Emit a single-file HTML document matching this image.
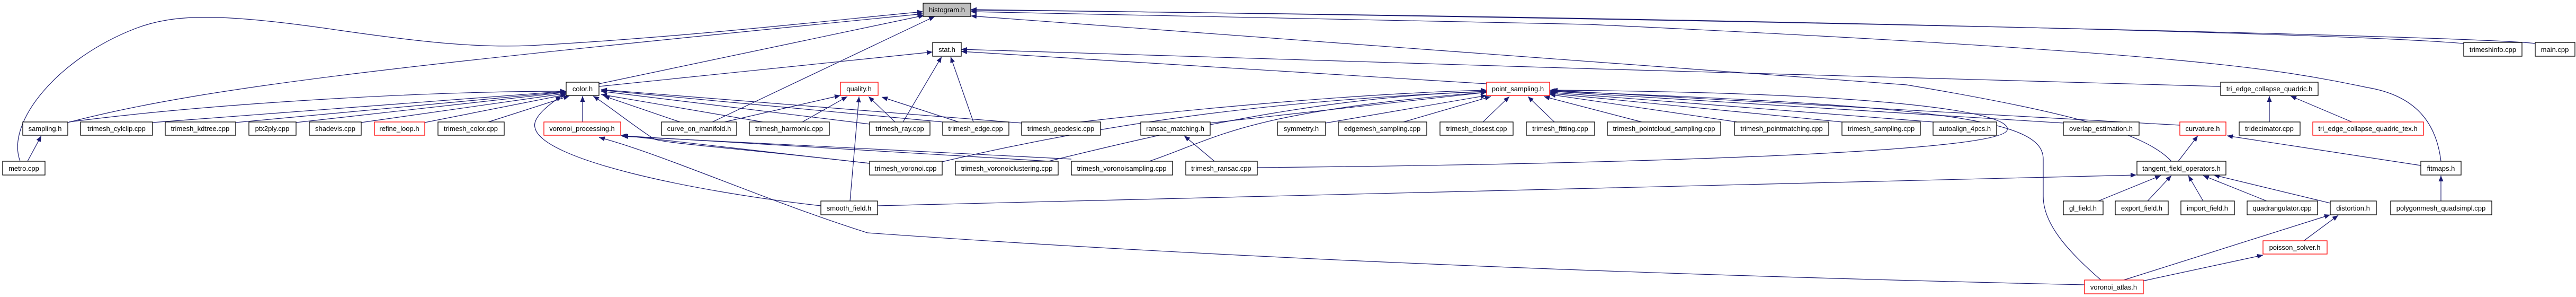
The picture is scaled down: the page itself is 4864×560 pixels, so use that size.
<!DOCTYPE html>
<html><head><meta charset="utf-8"><style>
html,body{margin:0;padding:0;background:#fff;}
svg{display:block}
text{font-family:"Liberation Sans",Arial,sans-serif;font-size:13px;text-anchor:middle;fill:#000}
.e{fill:none;stroke:#191970;stroke-width:1.2}
.n{fill:#fff;stroke:#000;stroke-width:1.3}
.r{fill:#fff;stroke:#f00;stroke-width:1.3}
.g{fill:#bfbfbf;stroke:#000;stroke-width:1.3}
</style></head><body>
<svg width="4864" height="560" viewBox="0 0 4864 560" xmlns="http://www.w3.org/2000/svg">
<defs><marker id="a" markerUnits="userSpaceOnUse" markerWidth="12" markerHeight="10" refX="11" refY="4.5" orient="auto"><path d="M0,0 L11,4.5 L0,9 z" fill="#191970"/></marker></defs>
<g class="e" marker-end="url(#a)">
<path d="M38 304 C10 230,110 110,255 54 C330 25,420 25,640 57 C800 80,900 90,1000 86 C1300 70,1600 35,1743 22"/>
<path d="M52 304 L78 256"/>
<path d="M128 231 C400 160,800 120,1743 26"/>
<path d="M130 230 C400 195,800 172,1069 172"/>
<path d="M288 231 L1069 172"/>
<path d="M445 231 L1069 173"/>
<path d="M559 231 L1069 174"/>
<path d="M682 231 L1069 176"/>
<path d="M802 231 L1070 178"/>
<path d="M922 230 L1075 181"/>
<path d="M1131 158 L1745 29"/>
<path d="M1131 163 L1761 98"/>
<path d="M1100 230 L1100 181"/>
<path d="M1284 230 L1140 181"/>
<path d="M1368 230 L1587 180"/>
<path d="M1345 230 L1765 31"/>
<path d="M1440 230 L1135 178"/>
<path d="M1515 230 L1600 182"/>
<path d="M1642 234 L1135 172"/>
<path d="M1690 230 L1640 182"/>
<path d="M1705 230 L1778 107"/>
<path d="M1838 230 L1795 107"/>
<path d="M1810 230 L1665 183"/>
<path d="M1780 230 L1135 170"/>
<path d="M1929 232 L1135 169"/>
<path d="M2040 230 C2300 200,2600 175,2807 170"/>
<path d="M1550 388 C1300 360,1020 300,1010 240 C1005 220,1040 195,1060 181"/>
<path d="M1605 379 L1622 182"/>
<path d="M1657 388 L4034 330"/>
<path d="M1642 308 L1172 255"/>
<path d="M1642 308 C1400 280,1250 270,1235 262 C1200 240,1150 200,1120 181"/>
<path d="M1779 305 C2100 230,2400 190,2807 172"/>
<path d="M1998 305 L1175 256"/>
<path d="M1980 304 C2200 250,2500 180,2807 173"/>
<path d="M2023 300 L1175 257"/>
<path d="M2170 304 C2300 260,2350 210,2807 174"/>
<path d="M2293 304 L2236 256"/>
<path d="M2374 316 C3000 310,3780 290,3790 245 C3800 215,3600 175,2930 170"/>
<path d="M3936 537 C3400 525,2500 500,1638 439 C1450 380,1250 290,1131 259"/>
<path d="M3967 528 C3900 470,3858 420,3858 370 L3858 300 C3858 230,3700 200,2930 172"/>
<path d="M4010 528 L4400 405"/>
<path d="M4045 530 L4273 481"/>
<path d="M2285 232 L2807 174"/>
<path d="M2503 232 L2807 180"/>
<path d="M2650 230 L2815 182"/>
<path d="M2800 230 L2850 182"/>
<path d="M2935 230 L2885 182"/>
<path d="M3100 230 L2915 182"/>
<path d="M3280 230 L2926 178"/>
<path d="M3478 230 L2926 176"/>
<path d="M3650 230 L2926 174"/>
<path d="M3896 232 L2926 172"/>
<path d="M4116 236 L2926 170"/>
<path d="M4113 304 L4150 256"/>
<path d="M4100 304 C4050 250,3900 210,3600 160 L1833 30"/>
<path d="M3962 379 L4080 331"/>
<path d="M4055 379 L4100 331"/>
<path d="M4160 379 L4132 331"/>
<path d="M4280 379 L4160 331"/>
<path d="M4400 383 L4180 330"/>
<path d="M4350 454 L4415 406"/>
<path d="M4571 312 L4205 256"/>
<path d="M4609 304 C4600 230,4560 180,4470 165 C4300 130,4150 100,3000 46 L1833 22"/>
<path d="M4609 379 L4609 331"/>
<path d="M4285 230 L4285 181"/>
<path d="M4441 230 L4325 181"/>
<path d="M4193 163 C3500 150,2500 110,1815 93"/>
<path d="M4652 82 C4400 60,3000 30,1833 19"/>
<path d="M4787 82 C4700 70,3500 40,1833 18"/>
<path d="M2807 158 L1815 97"/>
</g>
<g>
<rect class="g" x="1743" y="6" width="90" height="25"/><text x="1788" y="23">histogram.h</text>
<rect class="n" x="1761" y="80" width="54" height="26"/><text x="1788" y="98">stat.h</text>
<rect class="n" x="4652" y="80" width="110" height="26"/><text x="4707" y="98">trimeshinfo.cpp</text>
<rect class="n" x="4787" y="80" width="75" height="26"/><text x="4824" y="98">main.cpp</text>
<rect class="n" x="1069" y="155" width="62" height="25"/><text x="1100" y="172">color.h</text>
<rect class="r" x="1587" y="155" width="71" height="25"/><text x="1622" y="172">quality.h</text>
<rect class="r" x="2807" y="155" width="119" height="25"/><text x="2866" y="172">point_sampling.h</text>
<rect class="n" x="4193" y="155" width="184" height="25"/><text x="4285" y="172">tri_edge_collapse_quadric.h</text>
<rect class="n" x="43" y="230" width="85" height="25"/><text x="85" y="247">sampling.h</text>
<rect class="n" x="152" y="230" width="136" height="25"/><text x="220" y="247">trimesh_cylclip.cpp</text>
<rect class="n" x="312" y="230" width="133" height="25"/><text x="378" y="247">trimesh_kdtree.cpp</text>
<rect class="n" x="470" y="230" width="89" height="25"/><text x="514" y="247">ptx2ply.cpp</text>
<rect class="n" x="584" y="230" width="98" height="25"/><text x="633" y="247">shadevis.cpp</text>
<rect class="r" x="707" y="230" width="95" height="25"/><text x="754" y="247">refine_loop.h</text>
<rect class="n" x="827" y="230" width="125" height="25"/><text x="889" y="247">trimesh_color.cpp</text>
<rect class="r" x="1027" y="230" width="145" height="25"/><text x="1099" y="247">voronoi_processing.h</text>
<rect class="n" x="1249" y="230" width="142" height="25"/><text x="1320" y="247">curve_on_manifold.h</text>
<rect class="n" x="1415" y="230" width="151" height="25"/><text x="1490" y="247">trimesh_harmonic.cpp</text>
<rect class="n" x="1642" y="230" width="114" height="25"/><text x="1699" y="247">trimesh_ray.cpp</text>
<rect class="n" x="1780" y="230" width="125" height="25"/><text x="1842" y="247">trimesh_edge.cpp</text>
<rect class="n" x="1929" y="230" width="149" height="25"/><text x="2003" y="247">trimesh_geodesic.cpp</text>
<rect class="n" x="2154" y="230" width="131" height="25"/><text x="2219" y="247">ransac_matching.h</text>
<rect class="n" x="2412" y="230" width="91" height="25"/><text x="2457" y="247">symmetry.h</text>
<rect class="n" x="2527" y="230" width="167" height="25"/><text x="2610" y="247">edgemesh_sampling.cpp</text>
<rect class="n" x="2719" y="230" width="138" height="25"/><text x="2788" y="247">trimesh_closest.cpp</text>
<rect class="n" x="2882" y="230" width="129" height="25"/><text x="2946" y="247">trimesh_fitting.cpp</text>
<rect class="n" x="3035" y="230" width="214" height="25"/><text x="3142" y="247">trimesh_pointcloud_sampling.cpp</text>
<rect class="n" x="3275" y="230" width="178" height="25"/><text x="3364" y="247">trimesh_pointmatching.cpp</text>
<rect class="n" x="3478" y="230" width="148" height="25"/><text x="3552" y="247">trimesh_sampling.cpp</text>
<rect class="n" x="3650" y="230" width="120" height="25"/><text x="3710" y="247">autoalign_4pcs.h</text>
<rect class="n" x="3896" y="230" width="143" height="25"/><text x="3967" y="247">overlap_estimation.h</text>
<rect class="r" x="4116" y="230" width="87" height="25"/><text x="4159" y="247">curvature.h</text>
<rect class="n" x="4228" y="230" width="115" height="25"/><text x="4285" y="247">tridecimator.cpp</text>
<rect class="r" x="4367" y="230" width="209" height="25"/><text x="4471" y="247">tri_edge_collapse_quadric_tex.h</text>
<rect class="n" x="5" y="304" width="80" height="26"/><text x="45" y="322">metro.cpp</text>
<rect class="n" x="1642" y="304" width="137" height="26"/><text x="1710" y="322">trimesh_voronoi.cpp</text>
<rect class="n" x="1804" y="304" width="194" height="26"/><text x="1901" y="322">trimesh_voronoiclustering.cpp</text>
<rect class="n" x="2023" y="304" width="191" height="26"/><text x="2118" y="322">trimesh_voronoisampling.cpp</text>
<rect class="n" x="2239" y="304" width="135" height="26"/><text x="2306" y="322">trimesh_ransac.cpp</text>
<rect class="n" x="4035" y="304" width="168" height="26"/><text x="4119" y="322">tangent_field_operators.h</text>
<rect class="n" x="4571" y="304" width="76" height="26"/><text x="4609" y="322">fitmaps.h</text>
<rect class="n" x="1550" y="379" width="107" height="26"/><text x="1603" y="397">smooth_field.h</text>
<rect class="n" x="3896" y="379" width="75" height="26"/><text x="3933" y="397">gl_field.h</text>
<rect class="n" x="3994" y="379" width="100" height="26"/><text x="4044" y="397">export_field.h</text>
<rect class="n" x="4118" y="379" width="101" height="26"/><text x="4168" y="397">import_field.h</text>
<rect class="n" x="4243" y="379" width="133" height="26"/><text x="4309" y="397">quadrangulator.cpp</text>
<rect class="n" x="4400" y="379" width="87" height="26"/><text x="4443" y="397">distortion.h</text>
<rect class="n" x="4514" y="379" width="191" height="26"/><text x="4609" y="397">polygonmesh_quadsimpl.cpp</text>
<rect class="r" x="4273" y="454" width="121" height="25"/><text x="4333" y="471">poisson_solver.h</text>
<rect class="r" x="3936" y="528" width="111" height="26"/><text x="3991" y="546">voronoi_atlas.h</text>
</g>
</svg>
</body></html>
